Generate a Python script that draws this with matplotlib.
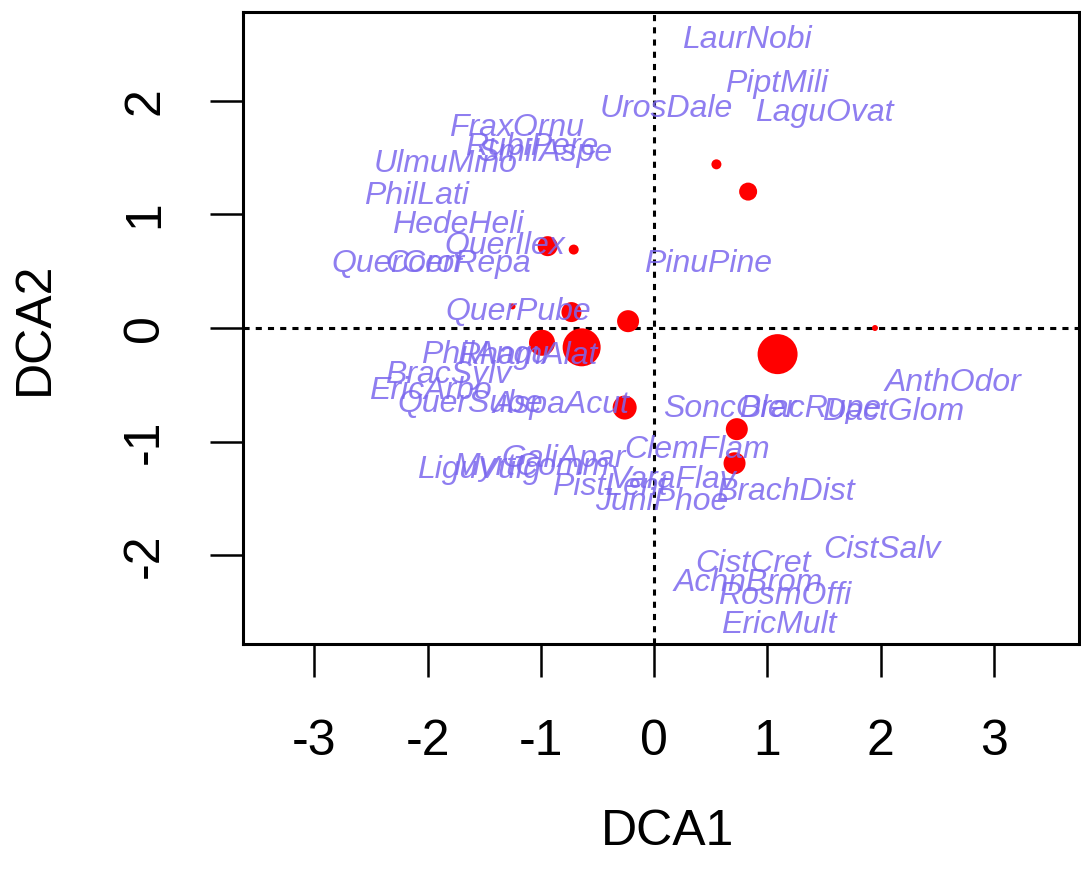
import matplotlib
matplotlib.use("Agg")
import matplotlib.pyplot as plt

plt.rcParams['font.family'] = ['Liberation Sans', 'DejaVu Sans']
plt.rcParams['axes.unicode_minus'] = False

# species scores (DCA1, DCA2)
species = ["LaurNobi", "PiptMili", "UrosDale", "LaguOvat", "FraxOrnu",
           "RubiPere", "SmilAspe", "UlmuMino", "PhilLati", "HedeHeli",
           "QuerIlex", "QuerCerr", "CoroRepa", "PinuPine", "QuerPube",
           "PhilAngu", "RhamAlat", "BracSylv", "EricArbo", "QuerSube",
           "AspaAcut", "SoncOler", "BracRupe", "DactGlom", "AnthOdor",
           "ClemFlam", "LiguVulg", "MyrtComm", "GaliApar", "PistLent",
           "VaraFlav", "BrachDist", "JuniPhoe", "CistSalv", "CistCret",
           "AchnBrom", "RosmOffi", "EricMult"]
sp_x = [0.82, 1.08, 0.11, 1.50, -1.22,
        -1.08, -0.97, -1.84, -2.10, -1.73,
        -1.32, -2.26, -1.73, 0.48, -1.20,
        -1.49, -1.12, -1.82, -1.98, -1.62,
        -0.82, 0.67, 1.38, 2.11, 2.64,
        0.38, -1.55, -1.09, -0.80, -0.39,
        0.16, 1.16, 0.07, 2.01, 0.87,
        0.83, 1.15, 1.10]
sp_y = [2.53, 2.15, 1.93, 1.89, 1.76,
        1.59, 1.54, 1.44, 1.16, 0.91,
        0.72, 0.56, 0.56, 0.56, 0.14,
        -0.24, -0.25, -0.41, -0.55, -0.67,
        -0.68, -0.71, -0.71, -0.74, -0.48,
        -1.07, -1.25, -1.22, -1.15, -1.40,
        -1.34, -1.44, -1.53, -1.95, -2.08,
        -2.24, -2.36, -2.61]

# site scores and point size (cex)
site_x = [0.55, 0.83, -0.94, -0.71, -1.25, -0.73, -0.23,
          -0.99, -0.64, 1.09, 1.95, -0.26, 0.73, 0.71]
site_y = [1.44, 1.20, 0.72, 0.69, 0.19, 0.14, 0.06,
          -0.13, -0.17, -0.23, 0.00, -0.70, -0.89, -1.19]
site_cex = [0.5, 0.9, 1.0, 0.5, 0.3, 1.0, 1.1,
            1.3, 1.9, 2.0, 0.3, 1.2, 1.1, 1.1]

fig = plt.figure(figsize=(10.81, 8.77), dpi=100)
ax = fig.add_axes([0.2248, 0.2657, 0.7732, 0.7206])

ax.axhline(0, color='black', linestyle=(0, (2, 2)), linewidth=2.2, zorder=1)
ax.axvline(0, color='black', linestyle=(0, (2, 2)), linewidth=2.2, zorder=1)

sizes = [(c * 14.4) ** 2 for c in site_cex]
ax.scatter(site_x, site_y, s=sizes, color='#ff0000', edgecolors='none', zorder=2)

for name, x, y in zip(species, sp_x, sp_y):
    ax.text(x, y, name, ha='center', va='center', fontsize=23,
            style='italic', color='#7b68ee', alpha=0.85, zorder=3)

ax.set_xlim(-3.63, 3.75)
ax.set_ylim(-2.78, 2.78)
ax.set_xticks([-3, -2, -1, 0, 1, 2, 3])
ax.set_yticks([-2, -1, 0, 1, 2])
ax.tick_params(axis='both', length=24, width=1.8, labelsize=36, pad=30)
for lab in ax.get_yticklabels():
    lab.set_rotation(90)
    lab.set_va('center')
for sp in ax.spines.values():
    sp.set_linewidth(2.2)

fig.text(0.618, 0.025, "DCA1", ha='center', va='bottom', fontsize=36)
fig.text(0.032, 0.626, "DCA2", ha='center', va='center', fontsize=36, rotation=90)

fig.savefig("out.png", dpi=100)
